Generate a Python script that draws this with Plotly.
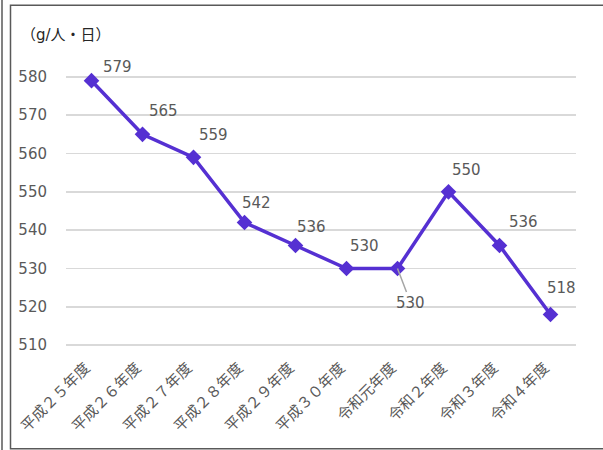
import plotly.graph_objects as go

categories = ["平成２５年度", "平成２６年度", "平成２７年度", "平成２８年度", "平成２９年度",
              "平成３０年度", "令和元年度", "令和２年度", "令和３年度", "令和４年度"]
values = [579, 565, 559, 542, 536, 530, 530, 550, 536, 518]
y_ticks = [510, 520, 530, 540, 550, 560, 570, 580]
unit_label = "（g/人・日）"

# label placement offsets (pixels), style only
label_dx = [26, 21, 20, 12, 16, 18, 13, 18, 24, 11]
label_dy = [14, 23, 22, 20, 19, 23, -34, 22, 24, 27]
leader = [False, False, False, False, False, False, True, False, False, False]

LINE = "#5530D2"
TXT = "#595959"
FONT = "DejaVu Sans, Noto Sans CJK JP, sans-serif"

W, H = 603, 450
L, R, T, B = 66, 27, 73.2, 101.2
pw, ph = W - L - R, H - T - B

def px(xp):
    return (xp - L) / pw

def py(yp):
    return (H - B - yp) / ph

fig = go.Figure()
fig.add_trace(go.Scatter(
    x=list(range(len(categories))), y=values, mode="lines+markers",
    line=dict(color=LINE, width=3.5),
    marker=dict(symbol="diamond", size=12, color=LINE),
    hoverinfo="skip", showlegend=False, cliponaxis=False,
))

annotations = []
for i, v in enumerate(values):
    if leader[i]:
        annotations.append(dict(
            x=i, y=v, xref="x", yref="y", text=str(v), showarrow=True,
            ax=label_dx[i], ay=-label_dy[i], arrowhead=0, arrowwidth=1.5,
            arrowcolor="#A6A6A6", standoff=0,
            font=dict(family=FONT, size=15, color=TXT)))
    else:
        annotations.append(dict(
            x=i, y=v, xref="x", yref="y", text=str(v), showarrow=False,
            xshift=label_dx[i], yshift=label_dy[i],
            font=dict(family=FONT, size=15, color=TXT)))

annotations.append(dict(
    x=px(66), y=py(35), xref="paper", yref="paper", text=unit_label,
    showarrow=False, xanchor="center", yanchor="middle",
    font=dict(family=FONT, size=15, color="#262626")))

shapes = [
    dict(type="rect", xref="paper", yref="paper",
         x0=px(10.5), x1=px(610), y0=py(448.5), y1=py(5.5),
         line=dict(color="#595959", width=1.5), fillcolor="rgba(0,0,0,0)", layer="below"),
    dict(type="line", xref="paper", yref="paper",
         x0=px(2), x1=px(2), y0=py(452), y1=py(-2),
         line=dict(color="#595959", width=1.5), layer="below"),
]

fig.update_layout(
    width=W, height=H,
    margin=dict(l=L, r=R, t=T, b=B, pad=0, autoexpand=False),
    paper_bgcolor="white", plot_bgcolor="white",
    annotations=annotations, shapes=shapes,
    font=dict(family=FONT, size=15, color=TXT),
    xaxis=dict(
        tickmode="array", tickvals=list(range(len(categories))), ticktext=categories,
        range=[-0.5, len(categories) - 0.5], tickangle=-45,
        showgrid=False, zeroline=False, showline=False, ticks="",
        automargin=False, ticklabelstandoff=6, ticklabelshift=-6,
        tickfont=dict(family="Noto Sans CJK JP", size=15, color=TXT),
    ),
    yaxis=dict(
        range=[509, 581], tickmode="array", tickvals=y_ticks,
        showgrid=True, gridcolor="#D9D9D9", gridwidth=1.5,
        zeroline=False, showline=False, ticks="",
        ticklabelstandoff=18, automargin=False,
        tickfont=dict(family=FONT, size=15, color=TXT),
    ),
)

fig.write_html("out.html", config={"displayModeBar": False, "staticPlot": True},
               post_script="document.body.style.margin='0';document.body.style.overflow='hidden';")
